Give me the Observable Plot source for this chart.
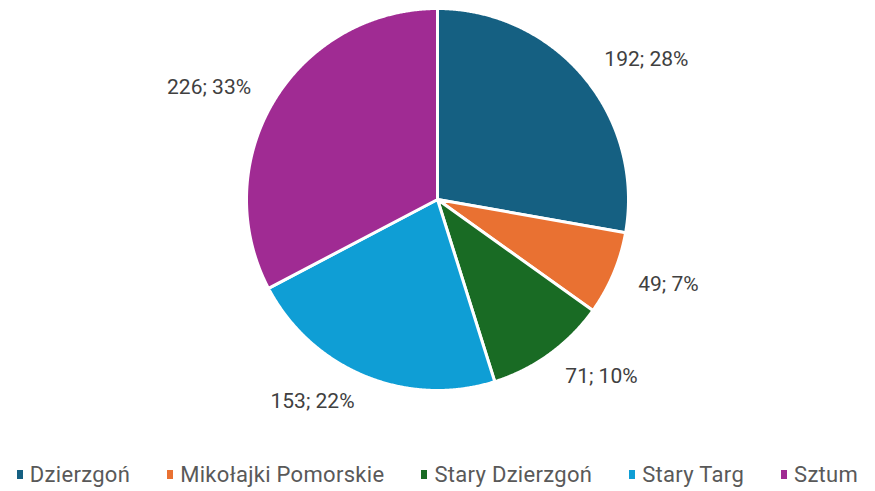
<!DOCTYPE html>
<html>
<head>
<meta charset="utf-8">
<script src="https://cdn.jsdelivr.net/npm/d3@7"></script>
<script src="https://cdn.jsdelivr.net/npm/@observablehq/plot@0.6"></script>
<style>
  body { margin: 0; background: #fff; font-family: Roboto, "Liberation Sans", sans-serif; }
  #chart svg { display: block; }
  #legend { display: flex; justify-content: center; gap: 37px; font-size: 22px; letter-spacing: 0.3px; color: #595959; margin-top: 10px; }
  #legend .item { display: flex; align-items: center; gap: 7px; }
  #legend .sw { width: 6px; height: 9px; display: inline-block; }
</style>
</head>
<body>
<div id="chart"></div>
<div id="legend"></div>
<script>
const categories = ["Dzierzgoń", "Mikołajki Pomorskie", "Stary Dzierzgoń", "Stary Targ", "Sztum"];
const values = [192, 49, 71, 153, 226];
const colors = ["#156082", "#E97132", "#196B24", "#0F9ED5", "#A02B93"];

const total = d3.sum(values);
const arcs = d3.pie().sort(null).value(d => d)(values);

// Polygon outline points for each slice (unit circle, angle clockwise from top)
const slicePts = [];
arcs.forEach((a, i) => {
  const cat = categories[i];
  slicePts.push({cat, x: 0, y: 0});
  const n = Math.max(2, Math.ceil((a.endAngle - a.startAngle) / 0.005));
  for (let k = 0; k <= n; k++) {
    const t = a.startAngle + (a.endAngle - a.startAngle) * k / n;
    slicePts.push({cat, x: Math.sin(t), y: Math.cos(t)});
  }
});

const labelR = 1.14;
const labels = arcs.map((a, i) => {
  const m = (a.startAngle + a.endAngle) / 2;
  return {
    cat: categories[i],
    x: labelR * Math.sin(m),
    y: labelR * Math.cos(m),
    text: `${values[i]}; ${Math.round(values[i] / total * 100)}%`
  };
});

const cx = 437, cy = 199, R = 191;
const chart = Plot.plot({
  width: 875,
  height: 452,
  margin: 0,
  x: {domain: [-1, 1], range: [cx - R, cx + R], axis: null},
  y: {domain: [-1, 1], range: [cy + R, cy - R], axis: null},
  color: {domain: categories, range: colors},
  style: {fontFamily: "Roboto, 'Liberation Sans', sans-serif"},
  marks: [
    Plot.line(slicePts, {x: "x", y: "y", z: "cat", fill: "cat", stroke: "white", strokeWidth: 3, curve: "linear-closed"}),
    Plot.text(labels.filter(d => d.x >= 0), {x: "x", y: "y", text: "text", textAnchor: "start", fontSize: 21, fill: "#404040"}),
    Plot.text(labels.filter(d => d.x < 0), {x: "x", y: "y", text: "text", textAnchor: "end", fontSize: 21, fill: "#404040"})
  ]
});
document.getElementById("chart").appendChild(chart);

const legend = document.getElementById("legend");
categories.forEach((c, i) => {
  const item = document.createElement("div");
  item.className = "item";
  const sw = document.createElement("span");
  sw.className = "sw";
  sw.style.background = colors[i];
  const tx = document.createElement("span");
  tx.textContent = c;
  item.appendChild(sw);
  item.appendChild(tx);
  legend.appendChild(item);
});
</script>
</body>
</html>
